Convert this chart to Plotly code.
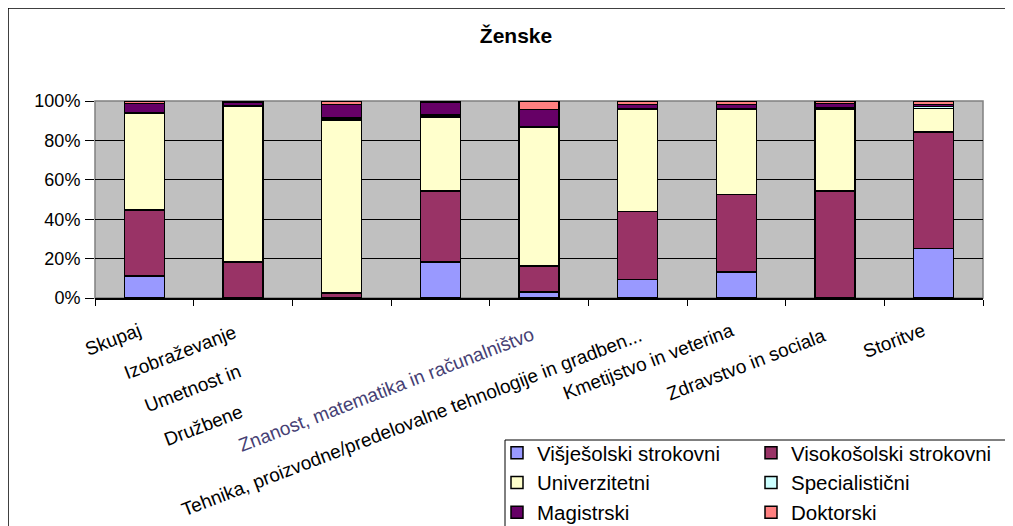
import plotly.graph_objects as go

# ---------------- data ----------------
title_text = "Ženske"
categories = [
    "Skupaj",
    "Izobraževanje",
    "Umetnost in",
    "Družbene",
    "Znanost, matematika in računalništvo",
    "Tehnika, proizvodne/predelovalne tehnologije in gradben...",
    "Kmetijstvo in veterina",
    "Zdravstvo in sociala",
    "Storitve",
]
series_names = [
    "Višješolski strokovni",
    "Visokošolski strokovni",
    "Univerzitetni",
    "Specialistični",
    "Magistrski",
    "Doktorski",
]
visjesolski = [11.1, 0.0, 0.0, 18.2, 3.1, 9.4, 13.1, 0.0, 25.2]
visokosolski = [33.6, 18.4, 2.6, 36.1, 13.2, 34.5, 39.5, 54.4, 59.0]
univerzitetni = [49.0, 78.7, 87.7, 37.5, 70.3, 51.7, 43.0, 41.3, 12.1]
specialisticni = [0.5, 0.5, 1.0, 1.2, 0.2, 0.5, 0.5, 0.8, 1.0]
magistrski = [4.6, 1.6, 7.0, 6.6, 8.9, 2.2, 2.2, 2.2, 1.0]
doktorski = [1.2, 0.8, 1.7, 0.4, 4.3, 1.7, 1.7, 1.3, 1.7]
y_tick_values = [0, 20, 40, 60, 80, 100]
y_tick_labels = ["0%", "20%", "40%", "60%", "80%", "100%"]

# ---------------- styles / layout ----------------
series_values = [visjesolski, visokosolski, univerzitetni,
                 specialisticni, magistrski, doktorski]
series_colors = ["#9999FF", "#993366", "#FFFFCC", "#CCFFFF", "#660066", "#FF8080"]
series_legend = ["legend", "legend2", "legend", "legend2", "legend", "legend2"]

FONT = "Liberation Sans, Arial, sans-serif"
OFF = 8                      # page body margin of the html page
W, H = 1013 - OFF, 526 - OFF
ML, MT = 95 - OFF, 101 - OFF
MR = W - (983 - OFF)
MB = H - (298 - OFF)
PW, PH = W - ML - MR, H - MT - MB

def px_x(p):  # screen pixel -> paper x
    return (p - OFF - ML) / PW

def px_y(p):  # screen pixel -> paper y
    return (H - MB - (p - OFF)) / PH

# label offsets: (xshift from category centre, top of label below axis) in px
label_offsets = [(2, 19), (-2, 21), (-96, 60), (-193, 100), (1, 23),
                 (9, 24), (3, 19), (-4, 24), (-3, 19)]
label_colors = ["black"] * 9
label_colors[4] = "#463f74"

fig = go.Figure()
for name, vals, col, lg in zip(series_names, series_values, series_colors, series_legend):
    fig.add_trace(go.Bar(
        name=name, x=categories, y=vals,
        marker=dict(color=col, line=dict(color="black", width=1.5)),
        legend=lg,
    ))

annotations = []
for cat, (dx, dy), c in zip(categories, label_offsets, label_colors):
    annotations.append(dict(
        text=cat, x=cat, xref="x", y=0, yref="paper",
        xanchor="right", yanchor="top", xshift=dx, yshift=-dy,
        textangle=-21, showarrow=False,
        font=dict(family=FONT, size=19, color=c),
    ))

shapes = [
    # plot-area border (grey)
    dict(type="rect", xref="paper", yref="paper", x0=0, x1=1, y0=0, y1=1,
         line=dict(color="#808080", width=1.5), layer="below"),
    # outer chart border
    dict(type="line", xref="paper", yref="paper", x0=px_x(8), x1=px_x(1030),
         y0=px_y(8), y1=px_y(8), line=dict(color="black", width=1.5)),
    dict(type="line", xref="paper", yref="paper", x0=px_x(8), x1=px_x(8),
         y0=px_y(8), y1=px_y(540), line=dict(color="black", width=1.5)),
    # legend box
    dict(type="rect", xref="paper", yref="paper", x0=px_x(505), x1=px_x(1007),
         y0=px_y(540), y1=px_y(440), fillcolor="white",
         line=dict(color="black", width=1), layer="below"),
]

legend_common = dict(
    orientation="v", traceorder="normal", xanchor="left", yanchor="top",
    bgcolor="rgba(0,0,0,0)", borderwidth=0,
    font=dict(family=FONT, size=20.5, color="black"),
)

fig.update_layout(
    width=W, height=H,
    margin=dict(l=ML, r=MR, t=MT, b=MB, autoexpand=False),
    paper_bgcolor="white", plot_bgcolor="#C0C0C0",
    barmode="stack", bargap=0.595,
    font=dict(family=FONT, color="black"),
    title=dict(text=title_text, x=(516 - OFF) / W, xref="container", xanchor="center",
               y=1 - (36 - OFF) / H, yref="container", yanchor="middle",
               font=dict(family=FONT, size=21, color="black", weight="bold")),
    xaxis=dict(range=[-0.5, len(categories) - 0.5], autorange=False,
               showticklabels=False, ticks="outside", tickson="boundaries",
               ticklen=6, tickcolor="black", tickwidth=1,
               showline=True, linecolor="black", linewidth=1.5,
               showgrid=False, zeroline=False),
    yaxis=dict(range=[0, 100], autorange=False,
               tickvals=y_tick_values, ticktext=y_tick_labels,
               ticks="outside", ticklen=9, tickcolor="black", tickwidth=1,
               ticklabelstandoff=1,
               tickfont=dict(family=FONT, size=18, color="black"),
               showgrid=True, gridcolor="black", gridwidth=1,
               showline=False, zeroline=False),
    legend=dict(x=px_x(497), y=px_y(433), **legend_common),
    legend2=dict(x=px_x(751), y=px_y(433), **legend_common),
    annotations=annotations,
    shapes=shapes,
    hovermode=False,
)

fig.write_html("out.html")
